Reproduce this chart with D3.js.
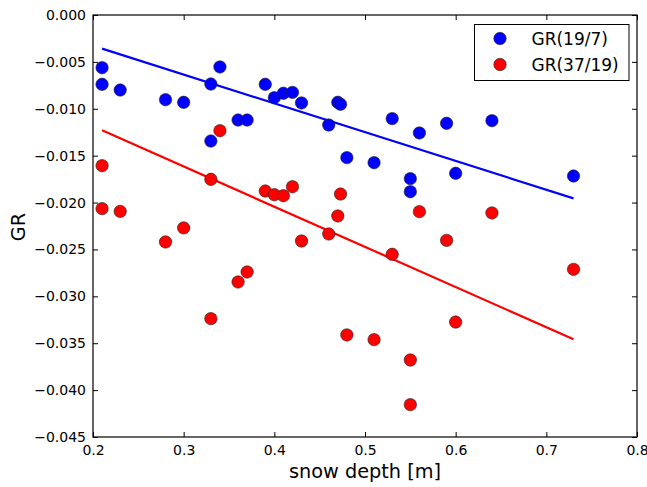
<!DOCTYPE html>
<html><head><meta charset="utf-8">
<script src="https://cdn.jsdelivr.net/npm/d3@7"></script>
<style>
html,body{margin:0;padding:0;background:#fff;}
svg{display:block;font-family:"DejaVu Sans",sans-serif;}
</style></head>
<body><svg id="chart" width="647" height="487"></svg>
<script>
const depthBlue = [0.21,0.21,0.23,0.28,0.30,0.33,0.34,0.33,0.36,0.37,0.39,0.40,0.41,0.42,0.43,0.47,0.473,0.46,0.48,0.51,0.53,0.55,0.55,0.56,0.59,0.60,0.64,0.73];
const grBlue = [-0.00562,-0.00739,-0.0080,-0.00903,-0.00931,-0.00736,-0.00554,-0.01344,-0.0112,-0.0112,-0.00739,-0.00882,-0.00835,-0.00825,-0.00938,-0.00931,-0.00952,-0.01173,-0.01521,-0.01575,-0.01105,-0.01745,-0.01884,-0.01258,-0.01155,-0.01688,-0.01127,-0.01717];
const depthRed = [0.21,0.21,0.23,0.28,0.30,0.33,0.33,0.34,0.36,0.37,0.39,0.40,0.41,0.42,0.43,0.46,0.47,0.473,0.48,0.51,0.53,0.55,0.55,0.56,0.59,0.60,0.64,0.73];
const grRed = [-0.01607,-0.02065,-0.02094,-0.0242,-0.0227,-0.01752,-0.03238,-0.01234,-0.02847,-0.0274,-0.01877,-0.01916,-0.01927,-0.01831,-0.0241,-0.02335,-0.02143,-0.01909,-0.03412,-0.03462,-0.02552,-0.03679,-0.04155,-0.02097,-0.02403,-0.03274,-0.02111,-0.02712];
const fitX = [0.21, 0.73];
const fitBlue = [-0.00359, -0.01955];
const fitRed = [-0.0123, -0.03458];
const xTicks = [0.2,0.3,0.4,0.5,0.6,0.7,0.8];
const yTicks = [0,-0.005,-0.010,-0.015,-0.020,-0.025,-0.030,-0.035,-0.040,-0.045];
const seriesNames = ["GR(19/7)","GR(37/19)"];
const seriesColors = ["#0000ff","#ff0000"];

const svg = d3.select("#chart");
const L=93, R=637, T=15, B=437;
const x = d3.scaleLinear().domain([0.2,0.8]).range([L,R]);
const y = d3.scaleLinear().domain([0,-0.045]).range([T,B]);
const fmtX = d3.format(".1f");
const fmtY = v => (v<0?"\u2212":"") + Math.abs(v).toFixed(3);

// axes with inward ticks on all four sides
const gB = svg.append("g").attr("transform",`translate(0,${B})`)
  .call(d3.axisBottom(x).tickValues(xTicks).tickSize(-5).tickPadding(8).tickFormat(fmtX));
const gT = svg.append("g").attr("transform",`translate(0,${T})`)
  .call(d3.axisTop(x).tickValues(xTicks).tickSize(-5).tickFormat(""));
const gL = svg.append("g").attr("transform",`translate(${L},0)`)
  .call(d3.axisLeft(y).tickValues(yTicks).tickSize(-5).tickPadding(8).tickFormat(fmtY));
const gR = svg.append("g").attr("transform",`translate(${R},0)`)
  .call(d3.axisRight(y).tickValues(yTicks).tickSize(-5).tickFormat(""));
[gB,gT,gL,gR].forEach(g=>{
  g.select(".domain").remove();
  g.selectAll(".tick line").attr("stroke","#000").attr("stroke-width",1);
  g.selectAll(".tick text").attr("fill","#000").attr("font-size",14).attr("font-family","DejaVu Sans");
});
gL.selectAll(".tick text").attr("dx",1);

// fit lines
const line = d3.line().x(d=>x(d[0])).y(d=>y(d[1]));
[fitBlue, fitRed].forEach((f,i)=>{
  svg.append("path").datum(fitX.map((v,j)=>[v,f[j]]))
    .attr("d",line).attr("fill","none").attr("stroke",seriesColors[i]).attr("stroke-width",2.2);
});

// scatter
[[depthBlue,grBlue],[depthRed,grRed]].forEach((s,i)=>{
  svg.append("g").selectAll("circle").data(s[0].map((v,j)=>[v,s[1][j]])).join("circle")
    .attr("cx",d=>x(d[0])).attr("cy",d=>y(d[1])).attr("r",6.2)
    .attr("fill",seriesColors[i]).attr("stroke","#222").attr("stroke-width",0.6);
});

// frame
svg.append("rect").attr("x",L).attr("y",T).attr("width",R-L).attr("height",B-T)
  .attr("fill","none").attr("stroke","#000").attr("stroke-width",1.2);

// legend
const lg = svg.append("g");
lg.append("rect").attr("x",474.5).attr("y",24.5).attr("width",154.5).attr("height",56)
  .attr("fill","#fff").attr("stroke","#000").attr("stroke-width",1);
seriesNames.forEach((n,i)=>{
  lg.append("circle").attr("cx",500).attr("cy",38.5+26*i).attr("r",6.2)
    .attr("fill",seriesColors[i]).attr("stroke","#222").attr("stroke-width",0.6);
  lg.append("text").attr("x",531.5).attr("y",38.5+26*i).attr("dy","0.36em")
    .attr("font-size",17).text(n);
});

// axis labels
svg.append("text").attr("x",(L+R)/2).attr("y",478).attr("text-anchor","middle")
  .attr("font-size",19.3).text("snow depth [m]");
svg.append("text").attr("transform","translate(25,227) rotate(-90)").attr("text-anchor","middle")
  .attr("font-size",19.3).text("GR");
</script></body></html>
